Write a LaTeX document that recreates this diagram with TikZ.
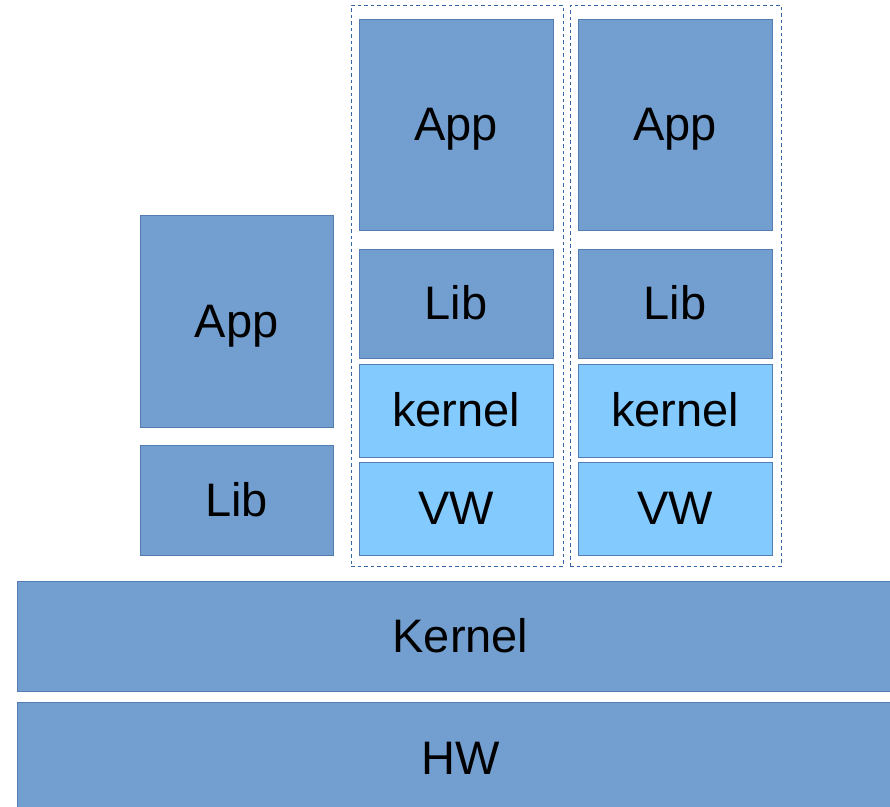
\documentclass[tikz,border=0pt]{standalone}
\usepackage{fontspec}
\setmainfont{Liberation Sans}
\definecolor{boxblue}{HTML}{729FCF}
\definecolor{lightblue}{HTML}{83CAFF}
\definecolor{edge}{HTML}{3465A4}
\begin{document}
\begin{tikzpicture}[x=1pt,y=-1pt,
  blk/.style={draw=edge!85, line width=0.9pt, fill=boxblue, inner sep=0pt, font=\fontsize{47}{52}\selectfont, text=black, text height=42.5pt, text depth=10pt},
  lblk/.style={blk, fill=lightblue},
  grp/.style={draw=edge, line width=0.8pt, dash pattern=on 3.5pt off 3pt, inner sep=0pt}]
\useasboundingbox (0,0) rectangle (890,806);
\clip (0,0) rectangle (890,806);
% left stack
\node[blk, minimum width=193pt, minimum height=212pt] (appL) at (236.5,321) {App};
\node[blk, minimum width=193pt, minimum height=110pt] (libL) at (236.5,500) {Lib};
% column 2
\node[grp, minimum width=212pt, minimum height=561pt] (g1) at (457,285.5) {};
\node[blk, minimum width=194pt, minimum height=211pt] (app1) at (456,124.5) {App};
\node[blk, minimum width=194pt, minimum height=109pt] (lib1) at (456,303.5) {Lib};
\node[lblk, minimum width=194pt, minimum height=93pt] (ker1) at (456,410.5) {kernel};
\node[lblk, minimum width=194pt, minimum height=93pt] (vw1) at (456,508.5) {VW};
% column 3
\node[grp, minimum width=211pt, minimum height=561pt] (g2) at (675.5,285.5) {};
\node[blk, minimum width=194pt, minimum height=211pt] (app2) at (675,124.5) {App};
\node[blk, minimum width=194pt, minimum height=109pt] (lib2) at (675,303.5) {Lib};
\node[lblk, minimum width=194pt, minimum height=93pt] (ker2) at (675,410.5) {kernel};
\node[lblk, minimum width=194pt, minimum height=93pt] (vw2) at (675,508.5) {VW};
% base
\node[blk, minimum width=887pt, minimum height=110pt] (kern) at (460.5,636) {Kernel};
\node[blk, minimum width=887pt, minimum height=112pt] (hw) at (460.5,758) {HW};
\end{tikzpicture}
\end{document}
